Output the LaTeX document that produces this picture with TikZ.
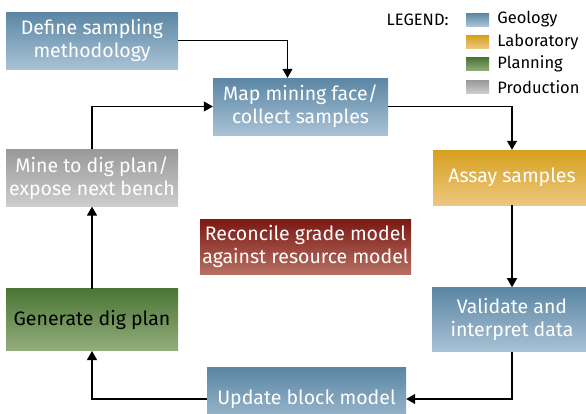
\documentclass[tikz,border=0pt]{standalone}
\usepackage{fontspec}
\setmainfont{Fira Sans}
\usetikzlibrary{positioning,arrows.meta}

\definecolor{geotop}{HTML}{5A86A4}
\definecolor{geobot}{HTML}{A9C2D5}
\definecolor{labtop}{HTML}{D6A01E}
\definecolor{labbot}{HTML}{EDC77F}
\definecolor{plantop}{HTML}{4B7634}
\definecolor{planbot}{HTML}{94AD7E}
\definecolor{prodtop}{HTML}{999999}
\definecolor{prodbot}{HTML}{CDCDCD}
\definecolor{rectop}{HTML}{7B1812}
\definecolor{recbot}{HTML}{B56F63}

\begin{document}
\begin{tikzpicture}[
  x=1pt,y=-1pt,
  node distance=80pt,
  task/.style={rectangle,inner sep=0pt,align=center,text=white,
    font=\fontsize{19.5}{23}\selectfont,minimum width=172pt,minimum height=57pt},
  geology/.style={task,top color=geotop,bottom color=geobot},
  laboratory/.style={task,top color=labtop,bottom color=labbot},
  planning/.style={task,top color=plantop,bottom color=planbot,text=black},
  production/.style={task,top color=prodtop,bottom color=prodbot},
  reconcile/.style={task,top color=rectop,bottom color=recbot},
  swatch/.style={rectangle,inner sep=0pt,minimum width=23pt,minimum height=13pt},
  legendtext/.style={font=\fontsize{16.5}{18}\selectfont,inner sep=0pt,anchor=west},
  flow/.style={draw,line width=1.1pt,-{Triangle[length=9pt,width=10pt]}},
]
  \clip (0,0) rectangle (586,413);

  % Left column
  \node[geology] (define) at (92,40.5) {Define sampling\\methodology};
  \node[production,below=80pt of define] (mine) {Mine to dig plan/\\expose next bench};
  \node[planning,below=82pt of mine,minimum height=62pt] (digplan) {Generate dig plan};

  % Middle column
  \node[geology,minimum width=175pt] (map) at (300.5,106.5) {Map mining face/\\collect samples};
  \node[reconcile,minimum width=211pt,minimum height=55pt] (recon) at (305.5,246.5)
    {Reconcile grade model\\against resource model};
  \node[geology,minimum width=199pt,minimum height=64pt] (update) at (306.5,399)
    {Update block model};

  % Right column
  \node[laboratory,minimum width=158pt,minimum height=55pt] (assay) at (512,177.5) {Assay samples};
  \node[geology,below=82pt of assay,minimum width=160pt,minimum height=64pt] (validate)
    {Validate and\\interpret data};

  % Legend
  \node[swatch,top color=geotop,bottom color=geobot] (swgeo) at (477.5,19.5) {};
  \node[swatch,top color=labtop,bottom color=labbot,below=9pt of swgeo] (swlab) {};
  \node[swatch,top color=plantop,bottom color=planbot,below=9pt of swlab] (swplan) {};
  \node[swatch,top color=prodtop,bottom color=prodbot,below=9pt of swplan] (swprod) {};
  \node[legendtext,right=8pt of swgeo] (lgeo) {Geology};
  \node[legendtext,right=8pt of swlab] (llab) {Laboratory};
  \node[legendtext,right=8pt of swplan] (lplan) {Planning};
  \node[legendtext,right=8pt of swprod] (lprod) {Production};
  \node[legendtext,anchor=east,left=17pt of swgeo] (legend) {LEGEND:};

  % Edges: sampling loop
  \path[flow] (define.east) -| ([xshift=-13pt]map.north);
  \path[flow] (mine.north) |- (map.west);
  \path[flow] (map.east) -| (assay.north);
  \path[flow] (assay) -- (validate);
  \path[flow] (validate.south) |- (update.east);
  \path[flow] (update.west) -| (digplan.south);
  \path[flow] (digplan) -- (mine);
\end{tikzpicture}
\end{document}
